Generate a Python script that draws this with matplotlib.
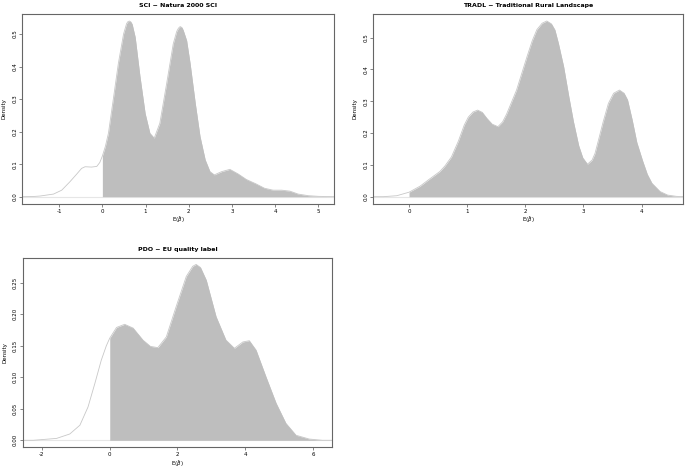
import matplotlib
matplotlib.use("Agg")
import matplotlib.pyplot as plt
import numpy as np

# density curves
sci_x = [-1.86, -1.6, -1.44, -1.13, -0.94, -0.75, -0.59, -0.48, -0.40, -0.25, -0.13, -0.06, 0.0,
         0.07, 0.14, 0.25, 0.37, 0.49, 0.56, 0.59, 0.625, 0.66, 0.69, 0.76, 0.87, 0.99, 1.10, 1.20, 1.33,
         1.49, 1.64, 1.72, 1.76, 1.80, 1.84, 1.87, 1.95, 2.03, 2.15, 2.26, 2.38, 2.49, 2.59, 2.76, 2.95,
         3.14, 3.33, 3.56, 3.75, 3.95, 4.15, 4.34, 4.53, 4.77, 5.0, 5.36]
sci_y = [0.0, 0.0005, 0.002, 0.008, 0.02, 0.046, 0.07, 0.087, 0.092, 0.091, 0.093, 0.105, 0.125,
         0.155, 0.195, 0.297, 0.41, 0.50, 0.532, 0.538, 0.54, 0.537, 0.53, 0.49, 0.37, 0.256, 0.195, 0.18, 0.226,
         0.35, 0.47, 0.508, 0.518, 0.523, 0.52, 0.512, 0.48, 0.41, 0.287, 0.185, 0.113, 0.077, 0.067, 0.077, 0.084,
         0.070, 0.053, 0.039, 0.026, 0.02, 0.02, 0.017, 0.008, 0.003, 0.001, 0.0]

tradl_x = [-0.61, -0.44, -0.21, 0.0, 0.19, 0.35, 0.53, 0.62, 0.73, 0.85, 0.95, 1.02, 1.10, 1.18,
           1.26, 1.34, 1.43, 1.53, 1.61, 1.68, 1.85, 2.03, 2.12, 2.20, 2.29, 2.37, 2.45, 2.51,
           2.57, 2.66, 2.75, 2.83, 2.92, 2.99, 3.07, 3.15, 3.20, 3.26, 3.34, 3.43, 3.52, 3.62,
           3.70, 3.76, 3.84, 3.92, 4.02, 4.10, 4.18, 4.32, 4.45, 4.60, 4.72]
tradl_y = [0.0, 0.0, 0.003, 0.014, 0.033, 0.055, 0.079, 0.097, 0.125, 0.175, 0.225, 0.25, 0.266, 0.272,
           0.265, 0.246, 0.228, 0.22, 0.235, 0.26, 0.335, 0.44, 0.49, 0.525, 0.545, 0.552, 0.543, 0.524,
           0.482, 0.409, 0.314, 0.235, 0.16, 0.122, 0.102, 0.115, 0.136, 0.178, 0.235, 0.293, 0.325, 0.335,
           0.325, 0.304, 0.241, 0.17, 0.112, 0.07, 0.042, 0.016, 0.005, 0.001, 0.0]

pdo_x = [-2.57, -2.26, -1.57, -1.18, -0.88, -0.64, -0.44, -0.25, -0.10, 0.0, 0.2, 0.44, 0.69, 0.98,
         1.20, 1.42, 1.67, 1.96, 2.26, 2.45, 2.55, 2.68, 2.85, 3.14, 3.43, 3.68, 3.93, 4.12, 4.32,
         4.61, 4.91, 5.2, 5.5, 5.89, 6.28, 6.57]
pdo_y = [0.0, 0.0, 0.003, 0.010, 0.024, 0.053, 0.090, 0.127, 0.150, 0.162, 0.179, 0.184, 0.178, 0.159,
         0.149, 0.147, 0.164, 0.212, 0.26, 0.276, 0.279, 0.274, 0.254, 0.196, 0.159, 0.146, 0.156, 0.158, 0.143,
         0.101, 0.059, 0.027, 0.008, 0.002, 0.0, 0.0]

titles = ["SCI \u2212 Natura 2000 SCI", "TRADL \u2212 Traditional Rural Landscape", "PDO \u2212 EU quality label"]

fig = plt.figure(figsize=(6.85, 4.70), dpi=100)

panels = [
    (sci_x, sci_y, [0.0321, 0.5666, 0.4555, 0.4036], (-1.86, 5.36), (-0.0216, 0.5616),
     [-1, 0, 1, 2, 3, 4, 5], [0.0, 0.1, 0.2, 0.3, 0.4, 0.5], "%.1f"),
    (tradl_x, tradl_y, [0.545, 0.5666, 0.4526, 0.4036], (-0.614, 4.72), (-0.0221, 0.574),
     [0, 1, 2, 3, 4], [0.0, 0.1, 0.2, 0.3, 0.4, 0.5], "%.1f"),
    (pdo_x, pdo_y, [0.0331, 0.0483, 0.4520, 0.402], (-2.57, 6.57), (-0.0111, 0.2886),
     [-2, 0, 2, 4, 6], [0.0, 0.05, 0.10, 0.15, 0.20, 0.25], "%.2f"),
]

for i, (xs, ys, rect, xl, yl, xt, yt, fmt) in enumerate(panels):
    ax = fig.add_axes(rect)
    xs = np.array(xs)
    ys = np.array(ys)
    ax.axhline(0, color="#e6e6e6", lw=0.8, zorder=1)
    ax.plot(xs, ys, color="#c8c8c8", lw=0.6, zorder=2)
    mask = xs >= 0
    ax.fill_between(xs[mask], 0, ys[mask], color="#bebebe", lw=0, zorder=3)
    ax.set_xlim(*xl)
    ax.set_ylim(*yl)
    ax.set_xticks(xt)
    ax.set_xticklabels([str(v) for v in xt])
    ax.set_yticks(yt)
    ax.set_yticklabels([fmt % v for v in yt], rotation=90, va="center")
    ax.tick_params(labelsize=4, length=2, width=0.5, color="#555555", pad=1.5)
    for s in ax.spines.values():
        s.set_color("#666666")
        s.set_linewidth(0.8)
    ax.set_title(titles[i], fontsize=4.5, fontweight="bold", pad=5)
    ax.set_ylabel("Density", fontsize=4, labelpad=4)
    ax.set_xlabel(r"E($\hat{\beta}$)", fontsize=4, labelpad=0.5)

fig.savefig("out.png", dpi=100)
